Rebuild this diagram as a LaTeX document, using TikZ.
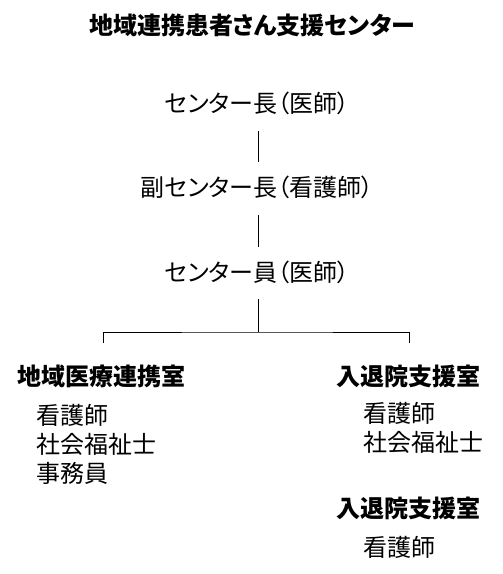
\documentclass[tikz,border=0pt]{standalone}
\usepackage{fontspec}
\setmainfont{Noto Sans CJK JP}[RawFeature=+palt]

\begin{document}
\begin{tikzpicture}[x=1pt,y=-1pt,
    every node/.style={font=\fontsize{24}{28}\selectfont},
    head/.style={font=\fontsize{24}{28}\selectfont\bfseries},
    link/.style={line width=0.8pt, shorten <=13pt, shorten >=10pt}]
    \useasboundingbox (0,0) rectangle (503,574);
    \node[head] (title) at (252,25) {地域連携患者さん支援センター};
    \node (chief) at (257,103) {センター長（医師）};
    \node (vice) at (257,187) {副センター長（看護師）};
    \node (staff) at (257,272) {センター員（医師）};
    \draw[link] (chief.south -| 258,0) -- (vice.north -| 258,0);
    \draw[link] (vice.south -| 258,0) -- (staff.north -| 258,0);
    % branches
    \coordinate (fork) at (258,332);
    \coordinate (lefttick) at (103,343);
    \coordinate (righttick) at (409,343);
    \draw[line width=0.8pt, shorten <=12pt] (staff.south -| fork) -- (fork);
    \draw[line width=0.8pt] (lefttick) |- (fork) -| (righttick);
    \node[head, anchor=west] (renkei) at (14,376) {地域医療連携室};
    \node[head, anchor=west] (taiin) at (333,376) {入退院支援室};
    \node[head, anchor=west] (taiinb) at (333,508) {入退院支援室};
    \foreach \txt [count=\k] in {看護師,社会福祉士,事務員}
    {
      \node[anchor=west] (renkei\k) at (33,386+29*\k) {\txt};
    }
    \foreach \txt [count=\k] in {看護師,社会福祉士}
    {
      \node[anchor=west] (taiin\k) at (360,384+29*\k) {\txt};
    }
    \node[anchor=west] (taiinb1) at (360,547) {看護師};
\end{tikzpicture}
\end{document}
